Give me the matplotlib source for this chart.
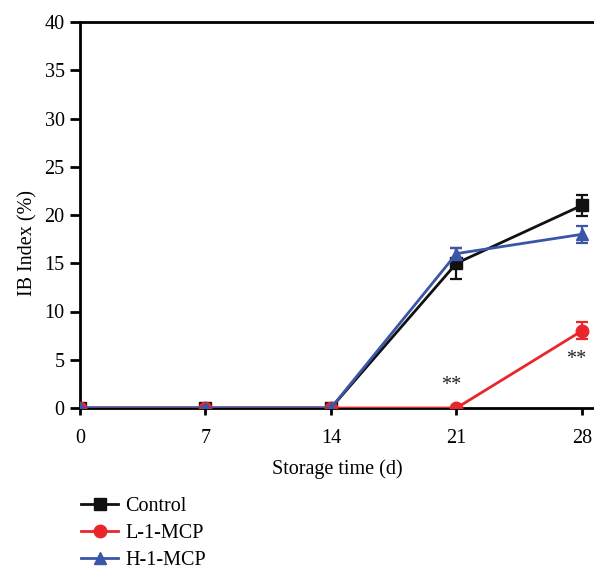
import matplotlib
matplotlib.use("Agg")
import matplotlib.pyplot as plt
from matplotlib.lines import Line2D

days = [0, 7, 14, 21, 28]
control = [0, 0, 0, 15.0, 21.0]
control_err = [0, 0, 0, 1.6, 1.1]
l_mcp = [0, 0, 0, 0, 8.0]
l_mcp_err = [0, 0, 0, 0, 0.9]
h_mcp = [0, 0, 0, 16.0, 18.0]
h_mcp_err = [0, 0, 0, 0.6, 0.9]
labels = ["Control", "L-1-MCP", "H-1-MCP"]
star_x = [21, 28]
star_y = [2.3, 5.0]

plt.rcParams['font.family'] = ['Liberation Serif', 'DejaVu Serif']
FS = 14.5

fig = plt.figure(figsize=(5.94, 5.75), dpi=100)
ax = fig.add_axes([80/594, 1-408/575, 1-80/594, (408-22)/575])

black = '#111111'
red = '#e8262b'
blue = '#3b56a6'

series = [(control, control_err, black, 's', 8),
          (l_mcp, l_mcp_err, red, 'o', 9),
          (h_mcp, h_mcp_err, blue, '^', 9)]
for vals, err, c, m, ms in series:
    ax.errorbar(days, vals, yerr=err, color=c, marker=m, markersize=ms,
                linewidth=2, elinewidth=1.6, capsize=4, capthick=1.6,
                clip_on=True, zorder=3)

for x, y in zip(star_x, star_y):
    ax.text(x - 0.3, y, "**", ha='center', va='center', fontsize=FS, color='#222222')

ax.set_xlim(0, 28.67)
ax.set_ylim(0, 40)
ax.set_xticks(days)
ax.set_yticks(range(0, 41, 5))
ax.spines['right'].set_visible(False)
for s in ['left', 'bottom', 'top']:
    ax.spines[s].set_linewidth(2)
    ax.spines[s].set_color('black')
ax.tick_params(width=2, labelsize=FS, colors='black', direction='out')
ax.tick_params(axis='x', length=5, pad=10)
ax.tick_params(axis='y', length=7, pad=4)
ax.set_xlabel("Storage time (d)", fontsize=FS, labelpad=8)
ax.set_ylabel("IB Index (%)", fontsize=FS)
ax.yaxis.set_label_coords(-0.082, 0.427)

handles = [Line2D([0], [0], color=c, marker=m, markersize=ms, linewidth=2)
           for (_, _, c, m, ms) in series]
fig.legend(handles, labels, loc='upper left', bbox_to_anchor=(81/594, 1-497/575),
           frameon=False, fontsize=FS, handlelength=1.85, handletextpad=0.35,
           labelspacing=0.4, borderaxespad=0, borderpad=0)

fig.savefig("out.png", dpi=100)
